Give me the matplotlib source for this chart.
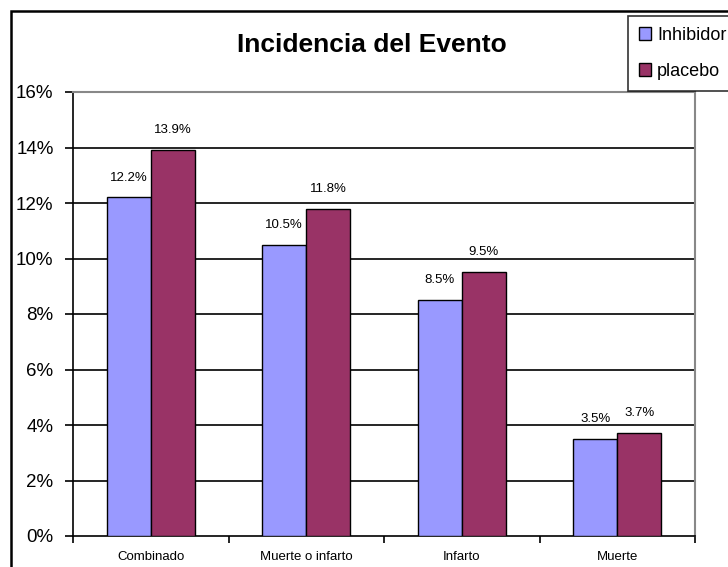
import matplotlib
matplotlib.use("Agg")
import matplotlib.pyplot as plt
from matplotlib.patches import Rectangle
import numpy as np

plt.rcParams["font.family"] = ["Liberation Sans", "DejaVu Sans"]

categories = ["Combinado", "Muerte o infarto", "Infarto", "Muerte"]
inhibidor = [12.2, 10.5, 8.5, 3.5]
placebo = [13.9, 11.8, 9.5, 3.7]
series_names = ["Inhibidor", "placebo"]
yticks = [0, 2, 4, 6, 8, 10, 12, 14, 16]

C_INH = "#9999FF"
C_PLA = "#993366"

fig = plt.figure(figsize=(7.28, 5.67), dpi=100)
ax = fig.add_axes([73 / 728, 1 - 536 / 567, (695 - 73) / 728, (536 - 92) / 567])

x = np.arange(len(categories))
w = 0.283
b1 = ax.bar(x - w / 2, inhibidor, w, color=C_INH, edgecolor="black", linewidth=1.0,
            label=series_names[0], zorder=3)
b2 = ax.bar(x + w / 2, placebo, w, color=C_PLA, edgecolor="black", linewidth=1.0,
            label=series_names[1], zorder=3)

for bars, vals in [(b1, inhibidor), (b2, placebo)]:
    for r, v in zip(bars, vals):
        ax.annotate(f"{v:.1f}%", (r.get_x() + r.get_width() / 2, v),
                    xytext=(0, 10), textcoords="offset points",
                    ha="center", va="bottom", fontsize=9.5)

ax.set_xlim(-0.5, len(categories) - 0.5)
ax.set_ylim(0, 16)
ax.set_yticks(yticks)
ax.set_yticklabels([f"{t}%" for t in yticks], fontsize=13.5)
ax.set_xticks(x)
ax.set_xticklabels(categories, fontsize=9.5)
ax.set_xticks(np.arange(len(categories) + 1) - 0.5, minor=True)
ax.tick_params(axis="x", which="major", length=0, pad=11)
ax.tick_params(axis="x", which="minor", length=5, width=1.2, direction="out")
ax.tick_params(axis="y", length=6, width=1.2, direction="out", pad=8)

for y in yticks[1:-1]:
    ax.axhline(y, color="black", linewidth=1.2, zorder=1)

ax.spines["left"].set_linewidth(1.2)
ax.spines["bottom"].set_linewidth(1.2)
ax.spines["top"].set_color("#888888")
ax.spines["right"].set_color("#888888")
ax.spines["top"].set_linewidth(1.5)
ax.spines["right"].set_linewidth(1.5)

fig.text(372 / 728, 1 - 45 / 567, "Incidencia del Evento", fontsize=19,
         fontweight="bold", ha="center", va="center")

# outer chart border
fig.patches.append(Rectangle((11 / 728, -0.05), 1.2, 1 - 11 / 567 + 0.05,
                             transform=fig.transFigure, fill=False,
                             edgecolor="black", linewidth=1.8))

leg = fig.legend(handles=[b1, b2], loc="upper left",
                 bbox_to_anchor=(628 / 728, 1 - 16 / 567), fontsize=13,
                 frameon=True, fancybox=False, edgecolor="black",
                 handlelength=0.7, handleheight=0.7, handletextpad=0.3,
                 labelspacing=1.05, borderpad=0.6, borderaxespad=0)
leg.get_frame().set_linewidth(1.2)

fig.savefig("out.png", dpi=100)
